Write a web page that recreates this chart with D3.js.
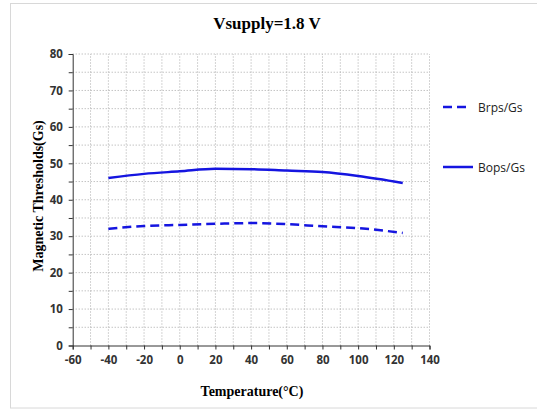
<!DOCTYPE html>
<html><head><meta charset="utf-8">
<script src="https://cdn.jsdelivr.net/npm/d3@7"></script>
<style>body{margin:0;background:#fff;}svg{display:block;}</style>
</head><body>
<svg id="c" width="537" height="410"></svg>
<script>
const temps = [-40, -20, 0, 20, 40, 60, 80, 100, 125];
const brps = [32.0, 32.8, 33.1, 33.4, 33.6, 33.3, 32.7, 32.2, 30.9];
const bops = [46.0, 47.1, 47.8, 48.5, 48.4, 48.0, 47.6, 46.5, 44.6];
const xTicks = [-60, -40, -20, 0, 20, 40, 60, 80, 100, 120, 140];
const yTicks = [0, 10, 20, 30, 40, 50, 60, 70, 80];
const seriesNames = ["Brps/Gs", "Bops/Gs"];

const svg = d3.select("#c");
svg.append("rect").attr("x", 10.5).attr("y", 3.5).attr("width", 530).attr("height", 404.5)
  .attr("fill", "none").attr("stroke", "#d8d8d8");

const x = d3.scaleLinear().domain([-60, 140]).range([72.7, 429.5]);
const y = d3.scaleLinear().domain([0, 80]).range([345.5, 54]);

const g = svg.append("g");
const gx = d3.range(-50, 141, 10);
const gy = d3.range(5, 81, 5);
g.selectAll(".vg").data(gx).join("line")
  .attr("x1", d => x(d)).attr("x2", d => x(d)).attr("y1", y(0)).attr("y2", y(80))
  .attr("stroke", "#a8a8a8").attr("stroke-dasharray", "1,2");
g.selectAll(".hg").data(gy).join("line")
  .attr("x1", x(-60)).attr("x2", x(140)).attr("y1", d => y(d)).attr("y2", d => y(d))
  .attr("stroke", "#a8a8a8").attr("stroke-dasharray", "1,2");

const xAxis = d3.axisBottom(x).tickValues(d3.range(-60, 141, 10)).tickSize(4)
  .tickFormat(d => xTicks.includes(d) ? d : "");
const yAxis = d3.axisLeft(y).tickValues(d3.range(0, 81, 5)).tickSize(4)
  .tickFormat(d => yTicks.includes(d) ? d : "");
const ax = svg.append("g").attr("transform", `translate(0,${y(0)})`).call(xAxis);
const ay = svg.append("g").attr("transform", `translate(${x(-60)},0)`).call(yAxis);
[ax, ay].forEach(a => {
  a.select(".domain").attr("stroke", "#333");
  a.selectAll(".tick line").attr("stroke", "#333");
  a.selectAll("text").attr("fill", "#333").attr("font-family", "Open Sans, sans-serif")
    .attr("font-size", 11.5).attr("font-weight", "bold");
});
ax.selectAll("text").attr("dy", "1.0em");
ay.selectAll("text").attr("dx", "-0.25em");

const line = d3.line().x(d => x(d[0])).y(d => y(d[1])).curve(d3.curveMonotoneX);
const col = "#1515e0";
svg.append("path").datum(temps.map((t, i) => [t, brps[i]])).attr("d", line)
  .attr("fill", "none").attr("stroke", col).attr("stroke-width", 2.5).attr("stroke-dasharray", "9,5");
svg.append("path").datum(temps.map((t, i) => [t, bops[i]])).attr("d", line)
  .attr("fill", "none").attr("stroke", col).attr("stroke-width", 2.5);

const leg = [{n: seriesNames[0], y: 107, dash: "9,5", x2: 467}, {n: seriesNames[1], y: 167, dash: null, x2: 473}];
leg.forEach(l => {
  svg.append("line").attr("x1", 443).attr("x2", l.x2).attr("y1", l.y).attr("y2", l.y)
    .attr("stroke", col).attr("stroke-width", 2.5).attr("stroke-dasharray", l.dash);
  svg.append("text").attr("x", 478).attr("y", l.y + 4.5).text(l.n)
    .attr("font-family", "Open Sans, sans-serif").attr("font-size", 12).attr("fill", "#222");
});

svg.append("text").attr("x", 267).attr("y", 29).attr("text-anchor", "middle")
  .attr("font-family", "Liberation Serif, Times New Roman, serif").attr("font-weight", "bold")
  .attr("font-size", 17).text("Vsupply=1.8 V");
svg.append("text").attr("x", 252).attr("y", 396).attr("text-anchor", "middle")
  .attr("font-family", "Liberation Serif, Times New Roman, serif").attr("font-weight", "bold")
  .attr("font-size", 14).text("Temperature(°C)");
svg.append("text").attr("transform", "translate(43,196) rotate(-90)").attr("text-anchor", "middle")
  .attr("font-family", "Liberation Serif, Times New Roman, serif").attr("font-weight", "bold")
  .attr("font-size", 14).text("Magnetic Thresholds(Gs)");
</script>
</body></html>
